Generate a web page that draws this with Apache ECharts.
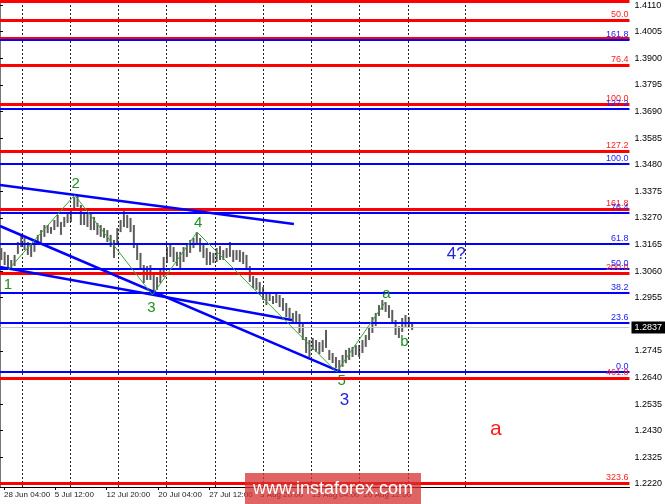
<!DOCTYPE html>
<html><head><meta charset="utf-8">
<script src="https://cdn.jsdelivr.net/npm/echarts@6/dist/echarts.min.js"></script>
<style>html,body{margin:0;padding:0;background:#fff}#c{width:665px;height:504px}</style>
</head><body><div id="c"></div>
<script>
// ---- price bars (H4 GBP/USD, highs & lows) ----
const barHighs = [1.3151,1.3136,1.3124,1.3104,1.3124,1.3175,1.3203,1.3191,1.3175,1.3163,
1.3183,1.3203,1.3222,1.3242,1.3242,1.3234,1.3262,1.3282,1.3254,1.3274,
1.3293,1.3309,1.3353,1.3360,1.3321,1.3289,1.3293,1.3289,1.3274,1.3250,
1.3242,1.3230,1.3222,1.3203,1.3183,1.3230,1.3262,1.3297,1.3282,1.3270,
1.3242,1.3163,1.3132,1.3084,1.3080,1.3084,1.3045,1.3037,1.3072,1.3116,
1.3155,1.3163,1.3155,1.3136,1.3136,1.3155,1.3171,1.3183,1.3191,1.3214,
1.3191,1.3171,1.3151,1.3136,1.3132,1.3151,1.3159,1.3143,1.3151,1.3175,
1.3143,1.3143,1.3143,1.3136,1.3124,1.3080,1.3041,1.3033,1.3017,1.2997,
1.2978,1.2974,1.2962,1.2974,1.2966,1.2954,1.2934,1.2915,1.2895,1.2903,
1.2891,1.2855,1.2800,1.2788,1.2796,1.2788,1.2780,1.2788,1.2828,1.2749,
1.2737,1.2721,1.2709,1.2729,1.2749,1.2757,1.2761,1.2768,1.2768,1.2788,
1.2808,1.2840,1.2879,1.2895,1.2926,1.2946,1.2938,1.2926,1.2907,1.2867,
1.2843,1.2875,1.2887,1.2879,1.2859];
const barLows = [1.3104,1.3084,1.3072,1.3064,1.3080,1.3128,1.3155,1.3143,1.3124,1.3116,
1.3136,1.3163,1.3175,1.3195,1.3210,1.3207,1.3222,1.3234,1.3203,1.3234,
1.3250,1.3254,1.3301,1.3313,1.3242,1.3242,1.3234,1.3222,1.3222,1.3203,
1.3195,1.3191,1.3175,1.3155,1.3112,1.3163,1.3214,1.3234,1.3230,1.3214,
1.3151,1.3104,1.3072,1.3013,1.3025,1.3025,1.2970,1.2986,1.3013,1.3037,
1.3092,1.3116,1.3096,1.3080,1.3072,1.3096,1.3116,1.3132,1.3151,1.3171,
1.3136,1.3112,1.3084,1.3084,1.3092,1.3096,1.3104,1.3104,1.3112,1.3116,
1.3096,1.3104,1.3096,1.3088,1.3064,1.3017,1.2993,1.2986,1.2966,1.2946,
1.2926,1.2942,1.2930,1.2934,1.2918,1.2903,1.2879,1.2875,1.2859,1.2851,
1.2816,1.2788,1.2737,1.2721,1.2749,1.2741,1.2733,1.2741,1.2757,1.2709,
1.2697,1.2678,1.2662,1.2682,1.2697,1.2709,1.2721,1.2729,1.2721,1.2737,
1.2761,1.2788,1.2816,1.2843,1.2883,1.2907,1.2899,1.2875,1.2855,1.2808,
1.2796,1.2820,1.2840,1.2836,1.2828];

// ---- axes ----
const xLabelPos = [1.2, 16.53, 32.17, 47.8, 63.13, 78.47, 94.1, 109.73];
const xLabelText = ['28 Jun 04:00','5 Jul 12:00','12 Jul 20:00','20 Jul 04:00','27 Jul 12:00','3 Aug 20:00','13 Aug 04:00','20 Aug 12:00'];
const vGridPos = [6.61, 21.25, 35.78, 50.2, 64.85, 79.37, 93.8, 108.53, 123.17, 140.4];
const yTickValues = [1.2220,1.2325,1.2430,1.2535,1.2640,1.2745,1.2955,1.3060,1.3165,1.3270,
1.3375,1.3480,1.3585,1.3690,1.3795,1.3900,1.4005,1.4110];
const lastPrice = 1.2837;

// ---- fibonacci levels ----
const redLevels = [1.4124,1.4051,1.3981,1.3872,1.3720,1.3534,1.3304,1.3053,1.2638,1.2223];
const redLabels = ['','50.0','','76.4','100.0','127.2','161.8','200.0','461.8','323.6'];
const blueLevels = [1.3974,1.3700,1.3483,1.3291,1.3167,1.3068,1.2975,1.2857,1.2663];
const blueLabels = ['161.8','127.2','100.0','76.4','61.8','50.0','38.2','23.6','0.0'];

// ---- trend lines & wave count ----
const trendUpper = [[0,1.3400],[88.7,1.3246]];
const trendLower = [[0,1.3238],[102.8,1.2662]];
const trendMid = [[0,1.3076],[88.1,1.2867]];
const waveX = [2.4, 22.55, 46.0, 59.5, 101.6, 116.3];
const waveY = [1.3064, 1.3360, 1.2966, 1.3214, 1.2662, 1.2938];
const waveText = ['1','2','3','4','a','b'];
const waveTextX = [2.41, 22.85, 45.7, 59.8, 116.6, 122.1];
const waveTextY = [1.3005, 1.3404, 1.2915, 1.3250, 1.2970, 1.2780];
const wave5Text = ['5']; const wave5X = [103.1]; const wave5Y = [1.2626];
const bigBlueText = ['3','4?']; const bigBlueX = [104.0, 137.7]; const bigBlueY = [1.2551, 1.3128];
const redText = ['a']; const redX = [149.7]; const redY = [1.2437];

const FONT = '"Liberation Sans", Arial, sans-serif';
function textSeries(texts, xs, ys, color, size, z){
  return {type:'custom', z:z, silent:true, clip:false,
    data: texts.map((t,i)=>[xs[i], ys[i], i]),
    renderItem(params, api){
      const p = api.coord([api.value(0), api.value(1)]);
      return {type:'text', x:p[0], y:p[1], style:{text:texts[api.value(2)], fill:color,
        font: size+'px '+FONT, align:'center', verticalAlign:'middle'}};
    }};
}

const chart = echarts.init(document.getElementById('c'), null, {renderer:'canvas'});
chart.setOption({
  animation:false,
  backgroundColor:'#fff',
  grid:{left:0, right:33, top:0, bottom:17, containLabel:false},
  xAxis:{type:'value', min:0, max:190,
    axisLine:{show:true, lineStyle:{color:'#000', width:1}},
    axisTick:{show:true, customValues:xLabelPos, length:3, lineStyle:{color:'#000'}},
    axisLabel:{show:true, customValues:xLabelPos, align:'left', margin:4, fontSize:8, fontFamily:FONT, color:'#222',
      formatter:(v)=>{const i=xLabelPos.indexOf(v); return i>=0?xLabelText[i]:'';}},
    splitLine:{show:false}},
  yAxis:{type:'value', position:'right', min:1.2208, max:1.4130, scale:true,
    axisLine:{show:true, lineStyle:{color:'#777', width:1}},
    axisTick:{show:true, customValues:yTickValues, length:3, lineStyle:{color:'#000'}},
    axisLabel:{show:true, customValues:yTickValues, margin:5, fontSize:9, fontFamily:FONT, color:'#000',
      formatter:(v)=>v.toFixed(4)},
    splitLine:{show:false}},
  graphic:[
    {type:'rect', z:100, shape:{x:245, y:473, width:176, height:31}, style:{fill:'rgba(214,48,48,0.75)'}},
    {type:'text', z:101, x:333, y:489, style:{text:'www.instaforex.com', fill:'#fff', font:'18px '+FONT, align:'center', verticalAlign:'middle'}}
  ],
  series:[
    {type:'line', data:[], z:1, silent:true,
      markLine:{silent:true, precision:4, symbol:['none','none'], label:{show:false},
        lineStyle:{color:'#222', width:1, type:[2,2]},
        data: vGridPos.map(v=>({xAxis:v}))}},
    {type:'custom', z:2, silent:true,
      data: barLows.map((l,i)=>[i+0.4, l, barHighs[i]]),
      encode:{x:0, y:[1,2]},
      renderItem(params, api){
        const a = api.coord([api.value(0), api.value(1)]);
        const b = api.coord([api.value(0), api.value(2)]);
        return {type:'line', shape:{x1:a[0], y1:a[1], x2:b[0], y2:b[1]}, style:{stroke:'#5c5c5c', lineWidth:2}};
      }},
    textSeries(wave5Text, wave5X, wave5Y, '#1f8f1f', 15, 3),
    {type:'line', data:[], z:4, silent:true,
      markLine:{silent:true, precision:4, symbol:['none','none'],
        lineStyle:{color:'#c8c8c8', width:1, type:'solid'},
        label:{show:true, position:'end', distance:2, formatter:lastPrice.toFixed(4), color:'#fff', backgroundColor:'#000', padding:[2,3,1,3], fontSize:9, fontFamily:FONT},
        data:[{yAxis:lastPrice}]}},
    {type:'line', data:[], z:5, silent:true,
      markLine:{silent:true, precision:4, symbol:['none','none'],
        lineStyle:{color:'#ff0000', width:3, type:'solid'},
        label:{show:true, position:'insideEndTop', distance:1, color:'#ff2020', fontSize:9, fontFamily:FONT},
        data: redLevels.map((v,i)=>({yAxis:v, label:{formatter:redLabels[i]||' '}}))}},
    {type:'line', data:[], z:6, silent:true,
      markLine:{silent:true, precision:4, symbol:['none','none'],
        lineStyle:{color:'#0000ff', width:2, type:'solid'},
        label:{show:true, position:'insideEndTop', distance:1, color:'#2020ff', fontSize:9, fontFamily:FONT},
        data: blueLevels.map((v,i)=>({yAxis:v, label:{formatter:blueLabels[i]}}))}},
    {type:'line', z:7, silent:true, data:trendUpper, showSymbol:false, lineStyle:{color:'#0000ff', width:2.5}},
    {type:'line', z:7, silent:true, data:trendLower, showSymbol:false, lineStyle:{color:'#0000ff', width:2.5}},
    {type:'line', z:7, silent:true, data:trendMid, showSymbol:false, lineStyle:{color:'#0000ff', width:2.5}},
    {type:'line', z:8, silent:true, data:waveX.map((x,i)=>[x, waveY[i]]), showSymbol:false, lineStyle:{color:'#3aa53a', width:1}},
    textSeries(waveText, waveTextX, waveTextY, '#1f8f1f', 15, 9),
    textSeries(bigBlueText, bigBlueX, bigBlueY, '#2424d8', 17, 9),
    textSeries(redText, redX, redY, '#ff1a1a', 21, 9)
  ]
});
</script>
</body></html>
